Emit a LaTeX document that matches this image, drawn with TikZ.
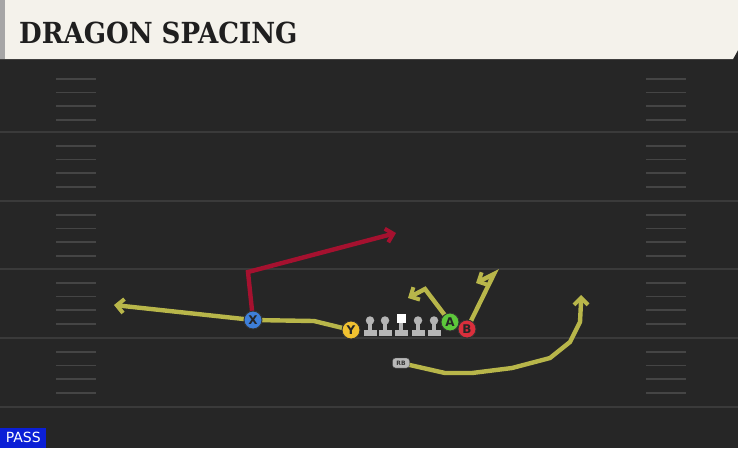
\documentclass[tikz,border=0pt]{standalone}
\usepackage{fontspec}
\setmainfont{DejaVu Serif}
\newfontfamily\titlefont{DejaVu Serif Condensed}
\newfontfamily\labfont{DejaVu Sans}
\usetikzlibrary{arrows.meta}
\definecolor{cream}{HTML}{F4F2EB}
\definecolor{field}{HTML}{262626}
\definecolor{yline}{HTML}{3A3A3A}
\definecolor{hash}{HTML}{454545}
\definecolor{redroute}{HTML}{A5112F}
\definecolor{yelroute}{HTML}{B8B64A}
\definecolor{xblue}{HTML}{3E7FD9}
\definecolor{yyel}{HTML}{F0C130}
\definecolor{agreen}{HTML}{5DC73B}
\definecolor{bred}{HTML}{DA2F3C}
\definecolor{olgray}{HTML}{B5B5B5}
\definecolor{passblue}{HTML}{0B1FD6}
\tikzset{
  player/.style={circle,draw=black!80,line width=0.9pt,minimum size=18pt,inner sep=0pt,font=\labfont\bfseries\fontsize{12}{12}\selectfont,text=black!85},
  routeR/.style={draw=redroute,line width=4.4pt,line join=miter,-{Straight Barb[length=7pt,width=14pt,line width=4pt]}},
  routeY/.style={draw=yelroute,line width=4.4pt,line join=round,-{Straight Barb[length=7pt,width=14pt,line width=4pt]}},
  routeYn/.style={draw=yelroute,line width=4.4pt,line join=round},
  hashmark/.style={draw=hash,line width=1.4pt},
  yardline/.style={draw=yline,line width=2pt},
}
\begin{document}
\begin{tikzpicture}[x=1pt,y=-1pt]
\useasboundingbox (0,0) rectangle (738,448);
\fill[field] (0,0) rectangle (738,448);
% yard lines
\foreach \yy in {132,201,269,338,407} {\draw[yardline] (0,\yy) -- (738,\yy);}
% hash marks
\foreach \base in {65,132,201,269,338} {
  \foreach \off in {14,27.5,41,55} {
    \draw[hashmark] (56,\base+\off) -- (96,\base+\off);
    \draw[hashmark] (646,\base+\off) -- (686,\base+\off);
  }
}
% header
\fill[black!85] (0,58) rectangle (738,66);
\fill[cream] (0,0) -- (738,0) -- (738,50) -- (733,59) -- (0,59) -- cycle;
\fill[black!35] (0,0) rectangle (5,59);
\node[anchor=base west,inner sep=0pt,text=black!88,font=\titlefont\bfseries\fontsize{29}{29}\selectfont] (title) at (19,43) {DRAGON SPACING};
% PASS label
\node[fill=passblue,text=white,anchor=south west,inner sep=0pt,minimum width=46pt,minimum height=20pt,font=\labfont\fontsize{14}{14}\selectfont] (pass) at (0,448) {PASS};
% coordinates for routes
\coordinate (xr1) at (248,272);
\coordinate (xr2) at (396,233);
\coordinate (yl1) at (314,321);
\coordinate (yl2) at (114,305);
\coordinate (ar1) at (425,289);
\coordinate (ar2) at (408,298);
\coordinate (br1) at (494,274);
\coordinate (br2) at (476,283);
% players coordinates
\coordinate (Xc) at (253,320);
\coordinate (Yc) at (351,330);
\coordinate (Ac) at (450,322);
\coordinate (Bc) at (467,329);
\coordinate (RBc) at (401,363);
% RB route
\draw[routeYn] (RBc) -- (445,373) -- (472,373) -- (512,368) -- (550,358) -- (570,342) -- (580,322) -- (581,302);
\coordinate (rbe1) at (581,304);
\coordinate (rbe2) at (581,295);
\draw[routeY] (rbe1) -- (rbe2);
\draw[routeY] (Yc) -- (yl1) -- (Xc) -- (yl2);
\draw[routeR] (Xc) -- (xr1) -- (xr2);
\draw[routeY,line join=miter] (Ac) -- (ar1) -- (ar2);
\draw[routeY,line join=miter] (Bc) -- (br1) -- (br2);
% RB
\node[draw=black!70,fill=black!28!white,rounded corners=3pt,minimum width=17pt,minimum height=10pt,inner sep=0pt,font=\labfont\bfseries\fontsize{6}{6}\selectfont,text=black!80] (RB) at (RBc) {RB};
% linemen
\foreach \lx/\nm in {370/lt,385/lg,418/rg,434/rt} {
  \fill[olgray] (\lx-2.2,321) rectangle (\lx+2.2,331);
  \fill[olgray] (\lx-6.5,330) rectangle (\lx+6.5,335.5);
  \node[circle,fill=olgray,minimum size=8.5pt,inner sep=0pt] (\nm) at (\lx,320.5) {};
}
\fill[olgray] (398.8,322) rectangle (403.2,331);
\fill[olgray] (394.5,330) rectangle (407.5,335.5);
\node[fill=white,minimum width=9pt,minimum height=9.5pt,inner sep=0pt] (C) at (401,318.5) {};
% skill players
\node[player,fill=xblue] (X) at (Xc) {X};
\node[player,fill=yyel] (Y) at (Yc) {Y};
\node[player,fill=agreen] (A) at (Ac) {A};
\node[player,fill=bred] (B) at (Bc) {B};
\end{tikzpicture}
\end{document}
